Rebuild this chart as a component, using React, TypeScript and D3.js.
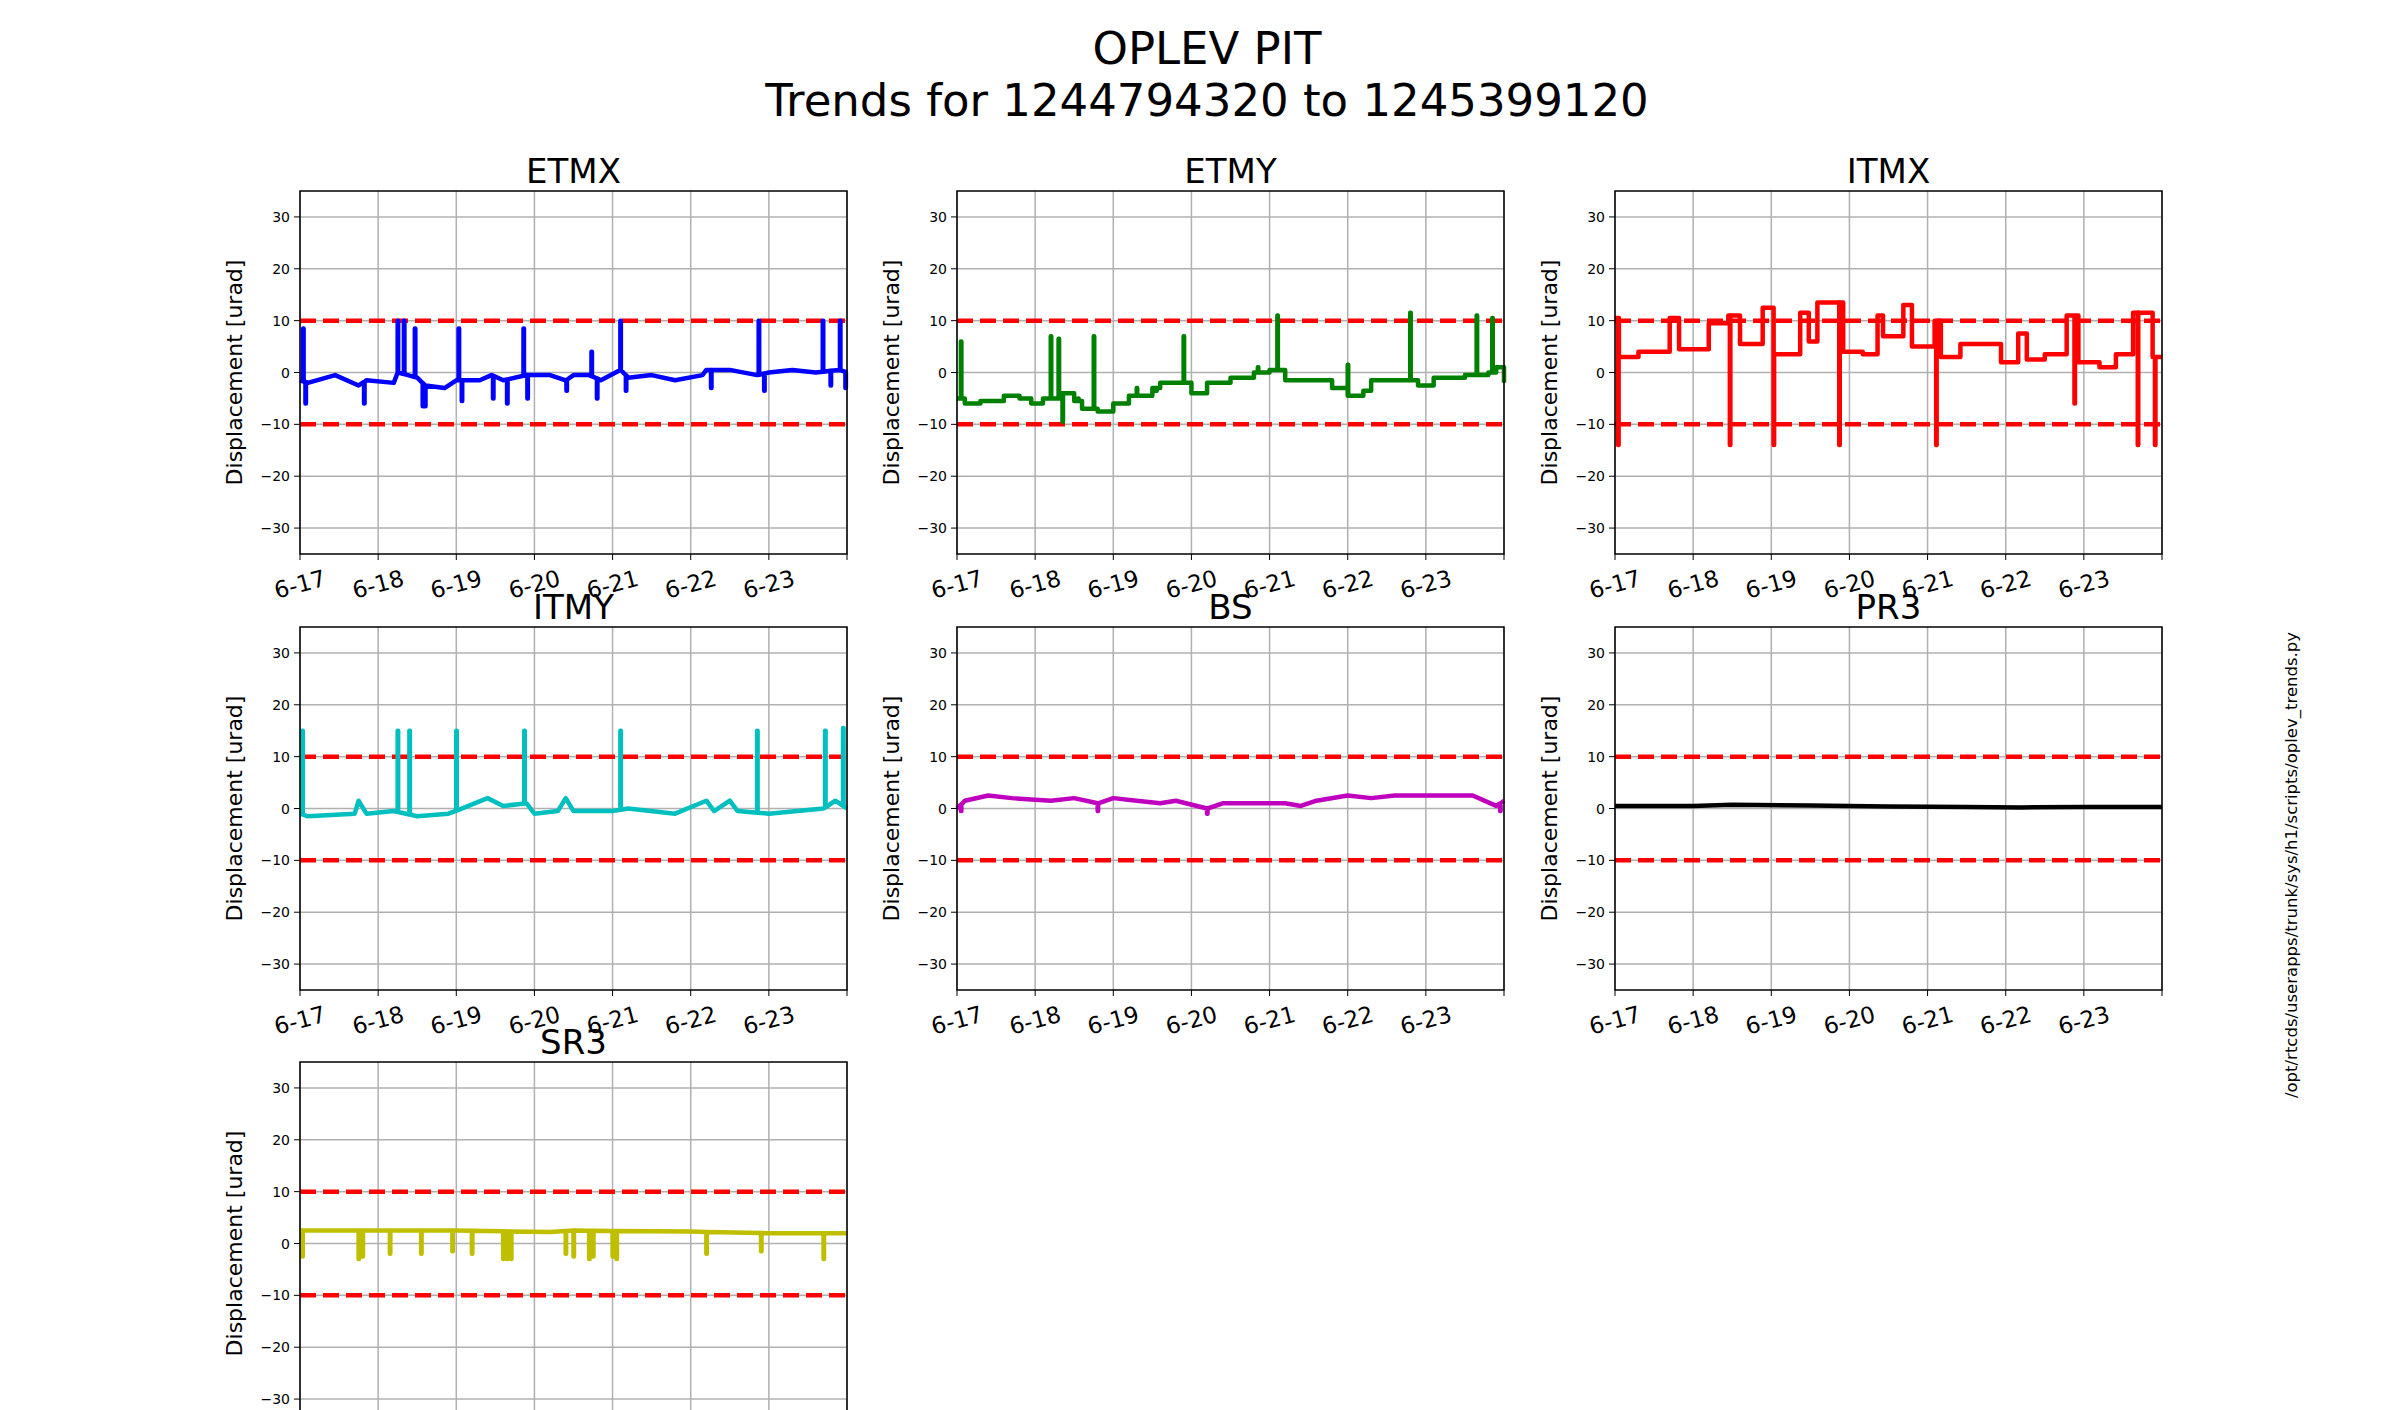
import { useEffect } from "react";
import * as d3 from "d3";

// time in days since 6-17 00:00, values in urad
const dayLabels = ["6-17", "6-18", "6-19", "6-20", "6-21", "6-22", "6-23"];
const yTicks = [-30, -20, -10, 0, 10, 20, 30];

const etmxBase: [number, number][] = [[0,-1.5],[0.1,-2],[0.45,-0.5],[0.75,-2.5],[0.85,-1.5],[1.2,-2],[1.25,0],[1.5,-1],[1.6,-2.5],[1.85,-3],[2.0,-1.5],[2.3,-1.5],[2.45,-0.5],[2.6,-1.5],[2.9,-0.5],[3.2,-0.5],[3.4,-1.5],[3.5,-0.5],[3.7,-0.5],[3.85,-1.5],[4.1,0.5],[4.2,-1],[4.5,-0.5],[4.8,-1.5],[5.15,-0.5],[5.2,0.5],[5.5,0.5],[5.85,-0.5],[6.0,0],[6.3,0.5],[6.6,0],[6.9,0.5],[7,0]];
const etmxSpikes: [number, number][] = [[0.04,8.5],[0.07,-6],[0.82,-6],[1.25,10],[1.33,10],[1.47,8.5],[1.57,-6.5],[1.6,-6.5],[2.03,8.5],[2.07,-5.5],[2.47,-5],[2.65,-6],[2.86,8.5],[2.91,-5],[3.41,-3.5],[3.73,4],[3.8,-5],[4.1,10],[4.17,-3.5],[5.26,-3],[5.87,10],[5.94,-3.5],[6.69,10],[6.79,-2.5],[6.91,10],[6.98,-3]];

const etmyBase: [number, number][] = [[0,-5],[0.1,-6],[0.3,-5.5],[0.6,-4.5],[0.8,-5],[0.95,-6],[1.1,-5],[1.3,-4],[1.5,-5.5],[1.6,-7],[1.8,-7.5],[2.0,-6],[2.2,-4.5],[2.5,-3],[2.6,-2],[2.9,-2],[3.0,-4],[3.2,-2],[3.5,-1],[3.8,0],[4.0,0.5],[4.2,-1.5],[4.5,-1.5],[4.8,-3],[5.0,-4.5],[5.2,-3.5],[5.3,-1.5],[5.6,-1.5],[5.9,-2.5],[6.1,-1],[6.5,-0.5],[6.8,0],[6.9,1],[7,-2]];
const etmySpikes: [number, number][] = [[0.05,6],[1.2,7],[1.3,6.5],[1.35,-9.5],[1.55,-5],[1.75,7],[2.3,-3],[2.55,-3.5],[2.9,7],[3.85,1],[4.1,11],[5.0,1.5],[5.8,11.5],[6.65,11],[6.85,10.5]];

const itmxBase: [number, number][] = [[0,10.5],[0.05,3],[0.3,4],[0.7,10.5],[0.82,4.5],[1.2,9.5],[1.45,11],[1.6,5.5],[1.89,12.5],[2.03,3.5],[2.37,11.5],[2.48,6],[2.59,13.5],[2.92,4],[3.17,3.5],[3.36,11],[3.43,7],[3.69,13],[3.8,5],[4.09,10],[4.17,3],[4.42,5.5],[4.94,2],[5.16,7.5],[5.27,2.5],[5.5,3.5],[5.78,11],[5.93,2],[6.2,1],[6.41,3.5],[6.63,11.5],[6.88,3],[7,3]];
const itmxSpikes: [number, number][] = [[0.04,-14],[1.47,-14],[2.03,-14],[2.87,-14],[4.11,-14],[5.88,-6],[6.69,-14],[6.91,-14]];

const itmyBase: [number, number][] = [[0,-1],[0.1,-1.5],[0.7,-1],[0.75,1.5],[0.85,-1],[1.2,-0.5],[1.5,-1.5],[1.9,-1],[2.4,2],[2.6,0.5],[2.9,1],[3.0,-1],[3.3,-0.5],[3.4,2],[3.5,-0.5],[4.0,-0.5],[4.2,0],[4.8,-1],[5.2,1.5],[5.3,-0.5],[5.5,1.5],[5.6,-0.5],[6.0,-1],[6.7,0],[6.85,1.5],[7,0]];
const itmySpikes: [number, number][] = [[0.03,15],[1.25,15],[1.4,15],[2.0,15],[2.87,15],[4.1,15],[5.85,15],[6.72,15],[6.95,15.5]];

const bsBase: [number, number][] = [[0,0],[0.1,1.5],[0.4,2.5],[0.7,2],[1.2,1.5],[1.5,2],[1.8,1],[2.0,2],[2.3,1.5],[2.6,1],[2.8,1.5],[3.2,0],[3.4,1],[3.9,1],[4.2,1],[4.4,0.5],[4.6,1.5],[5.0,2.5],[5.3,2],[5.6,2.5],[6.0,2.5],[6.4,2.5],[6.6,2.5],[6.9,0.5],[7,1.5]];
const bsSpikes: [number, number][] = [[0.05,-0.5],[1.8,-0.5],[3.2,-1],[6.95,-0.5]];

const pr3Base: [number, number][] = [[0,0.5],[1,0.5],[1.5,0.7],[2.5,0.6],[3.5,0.4],[4.5,0.3],[5.2,0.2],[6,0.3],[7,0.3]];
const pr3Spikes: [number, number][] = [];

const sr3Base: [number, number][] = [[0,2.5],[1,2.5],[2,2.5],[3.2,2.2],[3.5,2.5],[5,2.3],[6,2],[7,2]];
const sr3Spikes: [number, number][] = [[0.03,-2.5],[0.75,-3],[0.8,-2.5],[1.15,-2],[1.55,-2],[1.95,-1.5],[2.2,-2],[2.6,-3],[2.65,-3],[2.7,-3],[3.4,-2],[3.5,-2.5],[3.7,-3],[3.75,-2.5],[4.0,-2.5],[4.05,-3],[5.2,-2],[5.9,-1.5],[6.7,-3]];

const panels = [
  { name: "ETMX", color: "#0000ff", base: etmxBase, spikes: etmxSpikes, step: false },
  { name: "ETMY", color: "#008000", base: etmyBase, spikes: etmySpikes, step: true },
  { name: "ITMX", color: "#ff0000", base: itmxBase, spikes: itmxSpikes, step: true },
  { name: "ITMY", color: "#00bfbf", base: itmyBase, spikes: itmySpikes, step: false },
  { name: "BS", color: "#bf00bf", base: bsBase, spikes: bsSpikes, step: false },
  { name: "PR3", color: "#000000", base: pr3Base, spikes: pr3Spikes, step: false },
  { name: "SR3", color: "#bfbf00", base: sr3Base, spikes: sr3Spikes, step: false },
];

const W = 2400, H = 1410;
const colX = [300, 957, 1615];
const rowY = [191, 627, 1062];
const pw = 547, ph = 363;
const font = "DejaVu Sans, sans-serif";

function buildPoints(base: [number, number][], spikes: [number, number][], step: boolean) {
  const bis = d3.bisector((d: [number, number]) => d[0]).right;
  const baseAt = (t: number) => {
    const i = Math.max(1, Math.min(base.length - 1, bis(base, t)));
    const a = base[i - 1], b = base[i];
    if (step) return a[1];
    return a[1] + ((b[1] - a[1]) * (t - a[0])) / (b[0] - a[0]);
  };
  const pts: [number, number][] = base.map((d) => [d[0], d[1]]);
  spikes.forEach(([t, v]) => {
    const b = baseAt(t);
    pts.push([t - 0.0001, b], [t, v], [t + 0.006, v], [t + 0.0061, b]);
  });
  return pts.sort((a, b) => a[0] - b[0]);
}

export default function App() {
  useEffect(() => {
    document.body.style.margin = "0";
    const svg = d3.select("#chart");
    svg.selectAll("*").remove();
    svg.append("rect").attr("width", W).attr("height", H).attr("fill", "#fff");

    svg.append("text").attr("x", 1207).attr("y", 64).attr("text-anchor", "middle")
      .attr("font-family", font).attr("font-size", 45).text("OPLEV PIT");
    svg.append("text").attr("x", 1207).attr("y", 116).attr("text-anchor", "middle")
      .attr("font-family", font).attr("font-size", 45).text("Trends for 1244794320 to 1245399120");

    svg.append("text").attr("transform", `translate(2297,${865}) rotate(-90)`)
      .attr("text-anchor", "middle").attr("font-family", font).attr("font-size", 16.5)
      .text("/opt/rtcds/userapps/trunk/sys/h1/scripts/oplev_trends.py");

    panels.forEach((p, i) => {
      const x0 = colX[i % 3], y0 = rowY[Math.floor(i / 3)];
      const x = d3.scaleLinear().domain([0, 7]).range([0, pw]);
      const y = d3.scaleLinear().domain([-35, 35]).range([ph, 0]);
      const g = svg.append("g").attr("transform", `translate(${x0},${y0})`);

      g.selectAll(".gx").data(d3.range(0, 8)).enter().append("line")
        .attr("x1", (d) => x(d)).attr("x2", (d) => x(d)).attr("y1", 0).attr("y2", ph)
        .attr("stroke", "#b0b0b0").attr("stroke-width", 1.5);
      g.selectAll(".gy").data(yTicks).enter().append("line")
        .attr("x1", 0).attr("x2", pw).attr("y1", (d) => y(d)).attr("y2", (d) => y(d))
        .attr("stroke", "#b0b0b0").attr("stroke-width", 1.5);

      [10, -10].forEach((v) => {
        g.append("line").attr("x1", 0).attr("x2", pw).attr("y1", y(v)).attr("y2", y(v))
          .attr("stroke", "#ff0000").attr("stroke-width", 4.5).attr("stroke-dasharray", "16,7");
      });

      const line = d3.line<[number, number]>().x((d) => x(d[0])).y((d) => y(d[1]))
        .curve(p.step ? d3.curveStepAfter : d3.curveLinear);
      g.append("path").attr("d", line(buildPoints(p.base, p.spikes, p.step)))
        .attr("fill", "none").attr("stroke", p.color).attr("stroke-width", 4.5)
        .attr("stroke-linejoin", "round");

      g.append("rect").attr("width", pw).attr("height", ph).attr("fill", "none")
        .attr("stroke", "#000").attr("stroke-width", 1.5);

      yTicks.forEach((v) => {
        g.append("line").attr("x1", -6).attr("x2", 0).attr("y1", y(v)).attr("y2", y(v)).attr("stroke", "#000");
        g.append("text").attr("x", -10).attr("y", y(v) + 5).attr("text-anchor", "end")
          .attr("font-family", font).attr("font-size", 14).text(v < 0 ? `\u2212${-v}` : `${v}`);
      });
      d3.range(0, 8).forEach((d) => {
        g.append("line").attr("x1", x(d)).attr("x2", x(d)).attr("y1", ph).attr("y2", ph + 6).attr("stroke", "#000");
      });
      dayLabels.forEach((lab, d) => {
        g.append("text").attr("transform", `translate(${x(d) + 2},${ph + 38}) rotate(-15)`)
          .attr("text-anchor", "middle").attr("font-family", font).attr("font-size", 23).text(lab);
      });

      g.append("text").attr("x", pw / 2).attr("y", -8).attr("text-anchor", "middle")
        .attr("font-family", font).attr("font-size", 34).text(p.name);
      g.append("text").attr("transform", `translate(-58,${ph / 2}) rotate(-90)`)
        .attr("text-anchor", "middle").attr("font-family", font).attr("font-size", 22)
        .text("Displacement [urad]");
    });
  }, []);

  return <svg id="chart" width={W} height={H} style={{ display: "block" }} />;
}
